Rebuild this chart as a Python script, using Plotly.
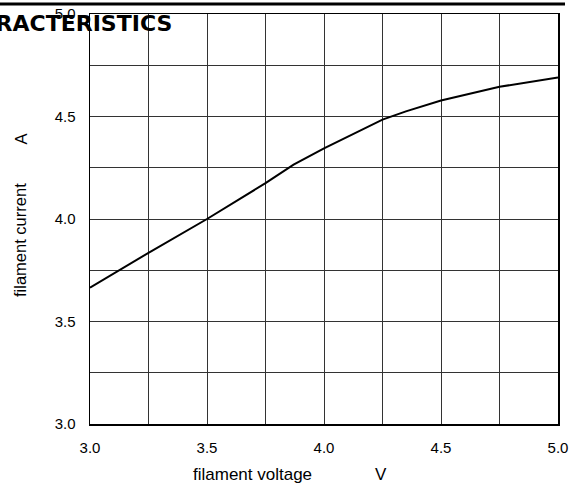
import plotly.graph_objects as go

# data
volt = [3.0, 3.25, 3.5, 3.75, 3.87, 4.0, 4.25, 4.35, 4.5, 4.75, 5.0]
curr = [3.665, 3.835, 4.0, 4.175, 4.265, 4.345, 4.485, 4.525, 4.578, 4.645, 4.69]
x_ticks = [3.0, 3.5, 4.0, 4.5, 5.0]
y_ticks = [3.0, 3.5, 4.0, 4.5, 5.0]
x_labels = ["3.0", "3.5", "4.0", "4.5", "5.0"]
y_labels = ["3.0", "3.5", "4.0", "4.5", "5.0"]
title_text = "CHARACTERISTICS"
x_title = "filament voltage"
x_unit = "V"
y_title = "filament current"
y_unit = "A"

W, H = 574, 483
L, R, T, B = 90, 16, 14, 59
pw, ph = W - L - R, H - T - B

def px(x):
    return (x - L) / pw

def py(y):
    return (H - B - y) / ph

font = "Liberation Sans, Arial, sans-serif"

fig = go.Figure()
fig.add_trace(go.Scatter(x=volt, y=curr, mode="lines",
                         line=dict(color="black", width=2), hoverinfo="skip",
                         showlegend=False))

axis_common = dict(
    showline=True, mirror=True, linecolor="black", linewidth=1.5,
    showgrid=True, gridcolor="#333333", gridwidth=1,
    ticks="", zeroline=False, automargin=False,
    tickfont=dict(family=font, size=15, color="black"),
    minor=dict(dtick=0.25, showgrid=True, gridcolor="#333333", gridwidth=1),
)

fig.update_xaxes(range=[3, 5], tickvals=x_ticks, ticktext=x_labels,
                 ticklabelstandoff=9, **axis_common)
fig.update_yaxes(range=[3, 5], tickvals=y_ticks, ticktext=y_labels,
                 ticklabelstandoff=10, **axis_common)

annotations = [
    dict(text=title_text, x=px(174), y=py(23.5), xref="paper", yref="paper",
         xanchor="right", yanchor="middle", showarrow=False,
         font=dict(family="DejaVu Sans, Verdana, sans-serif", size=22, color="black",
                   weight="bold")),
    dict(text=x_title, x=px(252), y=py(474), xref="paper", yref="paper",
         xanchor="center", yanchor="middle", showarrow=False,
         font=dict(family=font, size=17, color="black")),
    dict(text=x_unit, x=px(381), y=py(474), xref="paper", yref="paper",
         xanchor="center", yanchor="middle", showarrow=False,
         font=dict(family=font, size=17, color="black")),
    dict(text=y_title, x=px(20), y=py(240), xref="paper", yref="paper",
         xanchor="center", yanchor="middle", showarrow=False, textangle=-90,
         font=dict(family=font, size=16.5, color="black")),
    dict(text=y_unit, x=px(20), y=py(139.5), xref="paper", yref="paper",
         xanchor="center", yanchor="middle", showarrow=False, textangle=-90,
         font=dict(family=font, size=16.5, color="black")),
]

fig.update_layout(
    width=W, height=H,
    margin=dict(l=L, r=R, t=T, b=B, autoexpand=False),
    paper_bgcolor="white", plot_bgcolor="white",
    annotations=annotations,
    shapes=[dict(type="line", xref="paper", yref="paper",
                 x0=px(0), x1=px(565), y0=py(4), y1=py(4),
                 line=dict(color="black", width=3))],
)

fig.write_html(
    "out.html",
    config={"displayModeBar": False, "staticPlot": True},
    post_script="document.body.style.margin='0px';document.body.style.padding='0px';"
                "document.documentElement.style.margin='0px';",
)
